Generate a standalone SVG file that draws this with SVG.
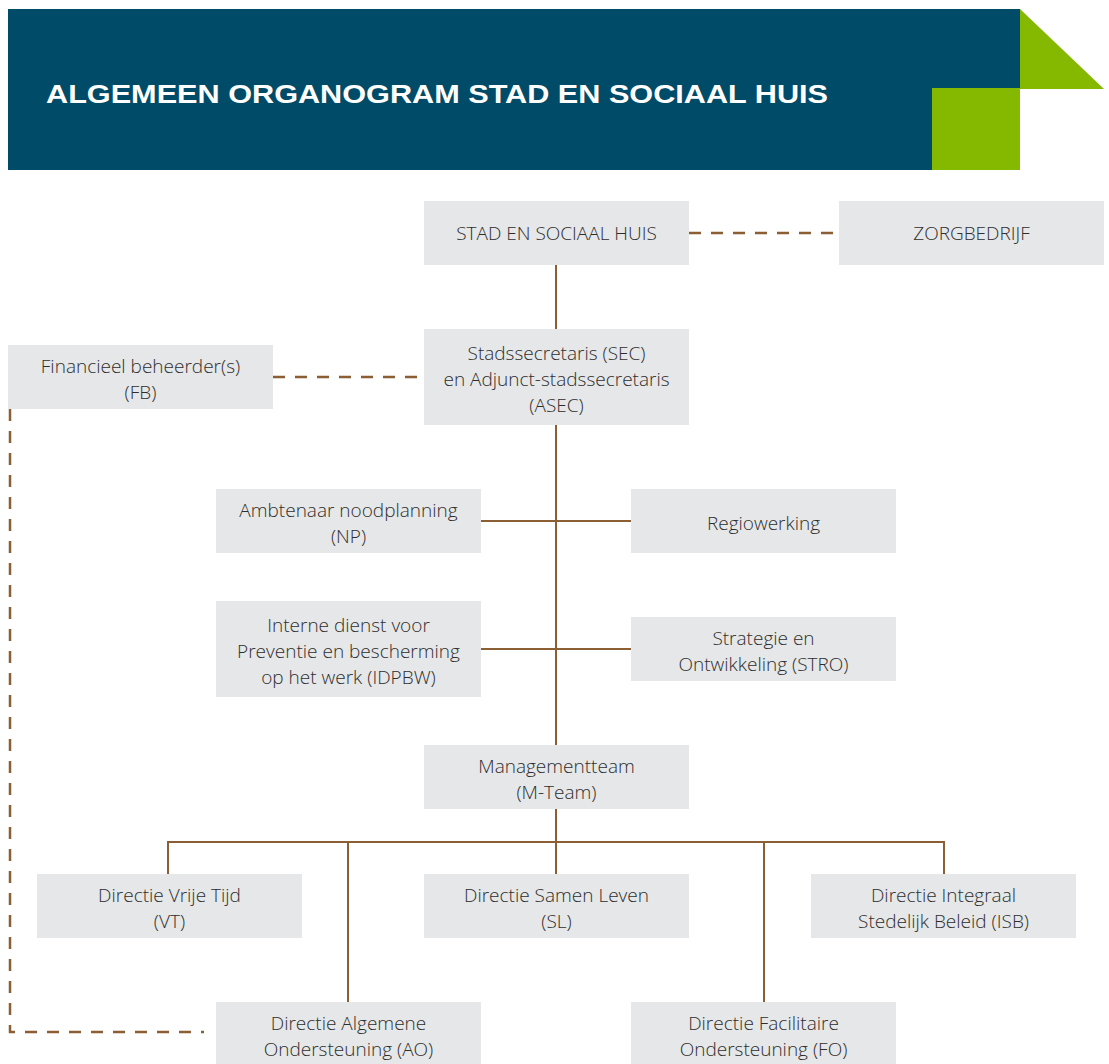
<svg xmlns="http://www.w3.org/2000/svg" width="1109" height="1064" viewBox="0 0 1109 1064">
<style>
.box{fill:#e6e7e8}
.t{font-family:"Open Sans","Noto Sans",sans-serif;font-size:19px;font-weight:300;fill:#2e2e2e;text-anchor:middle}
.ln{stroke:#8b5e34;stroke-width:2;fill:none}
.dl{stroke:#8b5e34;stroke-width:2.5;fill:none;stroke-dasharray:12 10}
</style>
<rect width="1109" height="1064" fill="#ffffff"/>
<g id="header">
<rect x="8" y="9" width="1012" height="161" fill="#004c68"/>
<polygon points="1020,9 1104,89 1020,89" fill="#84b900"/>
<rect x="932" y="88" width="88" height="82" fill="#84b900"/>
<text x="46" y="103" font-family="'Liberation Sans',Arial,sans-serif" font-weight="bold" font-size="26" fill="#ffffff" textLength="782" lengthAdjust="spacingAndGlyphs">ALGEMEEN ORGANOGRAM STAD EN SOCIAAL HUIS</text>
</g>
<g id="connectors">
<path class="ln" d="M556,265V329M556,425V745M556,809V842M481,521H631M481,649H631M168,842H944M168,841V874M348,841V1002M556,841V874M764,841V1002M944,841V874"/>
<path class="dl" d="M689,233H839"/>
<path class="dl" d="M273,377H424"/>
<path class="dl" d="M10,409V1032H204"/>
</g>
<g id="n-stad"><rect class="box" x="424" y="201" width="265" height="64"/><text class="t" x="556.5" y="240">STAD EN SOCIAAL HUIS</text></g>
<g id="n-zorg"><rect class="box" x="839" y="201" width="265" height="64"/><text class="t" x="971.5" y="240">ZORGBEDRIJF</text></g>
<g id="n-sec"><rect class="box" x="424" y="329" width="265" height="96"/><text class="t" x="556.5" y="360">Stadssecretaris (SEC)</text><text class="t" x="556.5" y="386">en Adjunct-stadssecretaris</text><text class="t" x="556.5" y="412">(ASEC)</text></g>
<g id="n-fb"><rect class="box" x="8" y="345" width="265" height="64"/><text class="t" x="140.5" y="373">Financieel beheerder(s)</text><text class="t" x="140.5" y="399">(FB)</text></g>
<g id="n-np"><rect class="box" x="216" y="489" width="265" height="64"/><text class="t" x="348.5" y="517">Ambtenaar noodplanning</text><text class="t" x="348.5" y="543">(NP)</text></g>
<g id="n-regio"><rect class="box" x="631" y="489" width="265" height="64"/><text class="t" x="763.5" y="530">Regiowerking</text></g>
<g id="n-idpbw"><rect class="box" x="216" y="601" width="265" height="96"/><text class="t" x="348.5" y="632">Interne dienst voor</text><text class="t" x="348.5" y="658">Preventie en bescherming</text><text class="t" x="348.5" y="684">op het werk (IDPBW)</text></g>
<g id="n-stro"><rect class="box" x="631" y="617" width="265" height="64"/><text class="t" x="763.5" y="645">Strategie en</text><text class="t" x="763.5" y="671">Ontwikkeling (STRO)</text></g>
<g id="n-mteam"><rect class="box" x="424" y="745" width="265" height="64"/><text class="t" x="556.5" y="773">Managementteam</text><text class="t" x="556.5" y="799">(M-Team)</text></g>
<g id="n-vt"><rect class="box" x="37" y="874" width="265" height="64"/><text class="t" x="169.5" y="902">Directie Vrije Tijd</text><text class="t" x="169.5" y="928">(VT)</text></g>
<g id="n-sl"><rect class="box" x="424" y="874" width="265" height="64"/><text class="t" x="556.5" y="902">Directie Samen Leven</text><text class="t" x="556.5" y="928">(SL)</text></g>
<g id="n-isb"><rect class="box" x="811" y="874" width="265" height="64"/><text class="t" x="943.5" y="902">Directie Integraal</text><text class="t" x="943.5" y="928">Stedelijk Beleid (ISB)</text></g>
<g id="n-ao"><rect class="box" x="216" y="1002" width="265" height="64"/><text class="t" x="348.5" y="1030">Directie Algemene</text><text class="t" x="348.5" y="1056">Ondersteuning (AO)</text></g>
<g id="n-fo"><rect class="box" x="631" y="1002" width="265" height="64"/><text class="t" x="763.5" y="1030">Directie Facilitaire</text><text class="t" x="763.5" y="1056">Ondersteuning (FO)</text></g>
</svg>
